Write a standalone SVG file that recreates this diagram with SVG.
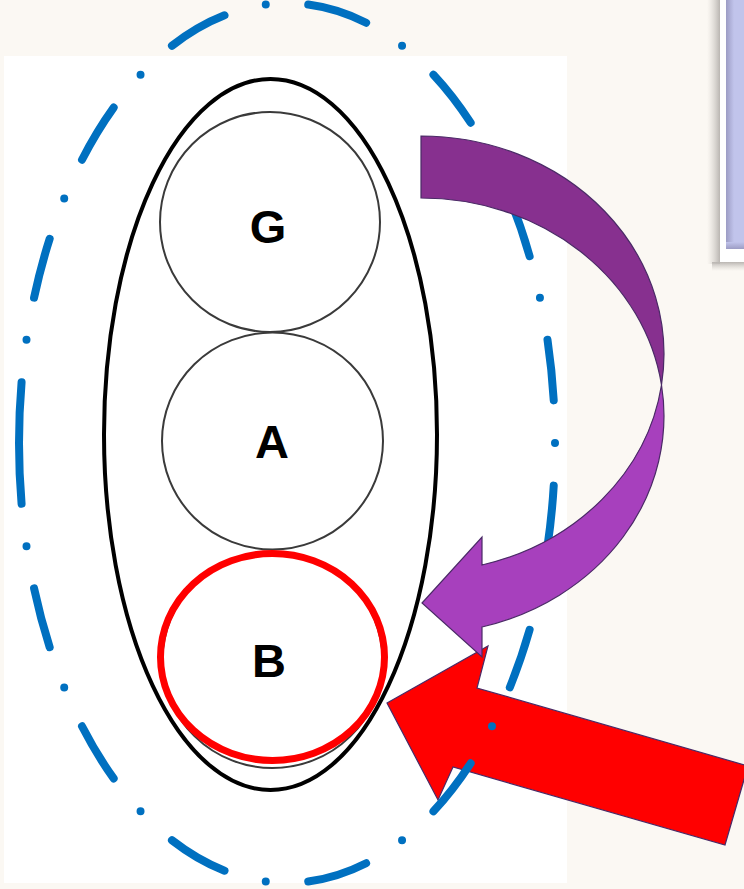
<svg xmlns="http://www.w3.org/2000/svg" width="744" height="889" viewBox="0 0 744 889">
  <defs>
    <style>
      .ring { fill: none; stroke: #3a3a3a; stroke-width: 2; }
      .label { font-family: "Liberation Sans", Arial, sans-serif; font-weight: bold; font-size: 47px; fill: #000; text-anchor: middle; }
      .outline { stroke: #4a2a66; stroke-width: 1.2; stroke-linejoin: miter; }
    </style>
    <linearGradient id="shadowX" x1="0" y1="0" x2="1" y2="0">
      <stop offset="0" stop-color="#d8d4cf" stop-opacity="0"/>
      <stop offset="1" stop-color="#b9b5b1"/>
    </linearGradient>
    <linearGradient id="shadowY" x1="0" y1="0" x2="0" y2="1">
      <stop offset="0" stop-color="#b9b5b1"/>
      <stop offset="1" stop-color="#d8d4cf" stop-opacity="0"/>
    </linearGradient>
    <linearGradient id="panelEdge" x1="0" y1="0" x2="1" y2="0">
      <stop offset="0" stop-color="#9c9cc4"/>
      <stop offset="1" stop-color="#c1c4eb"/>
    </linearGradient>
    <linearGradient id="panelBottom" x1="0" y1="0" x2="0" y2="1">
      <stop offset="0" stop-color="#c1c4eb"/>
      <stop offset="1" stop-color="#9c9cc4"/>
    </linearGradient>
  </defs>

  <!-- page background and white slide area -->
  <rect x="0" y="0" width="744" height="889" fill="#fbf8f3"/>
  <rect x="4" y="56" width="563" height="827" fill="#ffffff"/>

  <!-- framed panel at top right -->
  <g id="panel">
    <rect x="707" y="0" width="13" height="264" fill="url(#shadowX)"/>
    <rect x="712" y="262" width="40" height="9" fill="url(#shadowY)"/>
    <rect x="720" y="-2" width="30" height="264" fill="#ffffff"/>
    <rect x="726" y="-2" width="24" height="251" fill="#c1c4eb"/>
    <rect x="726" y="-2" width="8" height="251" fill="url(#panelEdge)"/>
    <rect x="726" y="242" width="24" height="7" fill="url(#panelBottom)"/>
  </g>

  <!-- inner grouping ellipse -->
  <g id="group-inner">
    <ellipse cx="270.5" cy="434.5" rx="166.5" ry="355.5" fill="none" stroke="#000" stroke-width="4"/>
  </g>

  <g id="node-G">
    <circle class="ring" cx="270" cy="222" r="110"/>
    <text class="label" x="268" y="243">G</text>
  </g>

  <g id="node-A">
    <ellipse class="ring" cx="272.5" cy="441" rx="110.5" ry="108.5"/>
    <text class="label" x="272" y="458">A</text>
  </g>

  <g id="node-B">
    <ellipse class="ring" cx="272.5" cy="660" rx="110" ry="108"/>
    <ellipse cx="272.5" cy="657" rx="112" ry="103.5" fill="none" stroke="#ff0000" stroke-width="7"/>
    <text class="label" x="269" y="677">B</text>
  </g>

  <!-- incoming block arrow -->
  <g id="arrow-in">
    <polygon class="outline" fill="#ff0000" points="387,703 488,646 477,688 748,766 725,845 453,767 438,800"/>
  </g>

  <!-- outer dash-dot boundary, path starts at the leftmost point -->
  <g id="group-outer">
    <path d="M 19 443 A 268 440 0 0 1 555 443 A 268 440 0 0 1 19 443" pathLength="2257"
          fill="none" stroke="#0070c0" stroke-width="8" stroke-linecap="round"
          stroke-dasharray="61 42.7 0 42.7"/>
  </g>

  <!-- curved arrow from G down to B -->
  <g id="connectors">
    <path class="outline" fill="#87308f"
          d="M 421 136 A 243 218 0 0 1 661.5 385 A 243 218 0 0 0 421 198 Z"/>
    <path class="outline" fill="#a740bd"
          d="M 661.5 385 A 243 218 0 0 1 482 627 L 482 657 L 422 603 L 482 537 L 482 565 A 243 218 0 0 0 661.5 385 Z"/>
  </g>
</svg>
